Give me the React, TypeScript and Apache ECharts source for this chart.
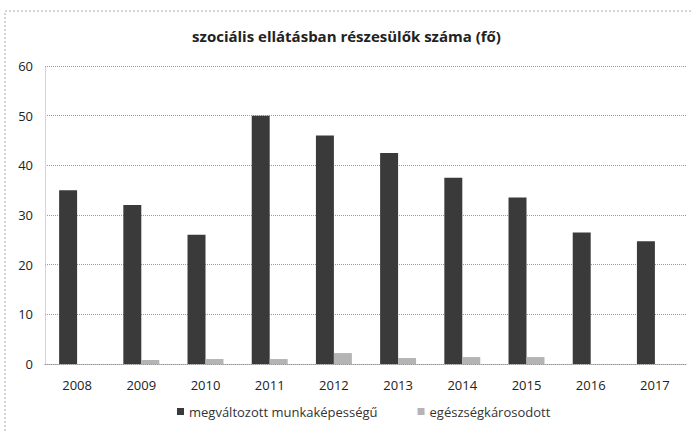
import React, { useEffect, useRef } from "react";
import * as echarts from "echarts";

const years = ["2008", "2009", "2010", "2011", "2012", "2013", "2014", "2015", "2016", "2017"];
const megvaltozott = [35, 32, 26, 50, 46, 42.5, 37.5, 33.5, 26.5, 24.7];
const egeszsegkarosodott = [0, 0.8, 1, 1, 2.2, 1.2, 1.4, 1.4, 0, 0];
const seriesNames = ["megváltozott munkaképességű", "egészségkárosodott"];
const titleText = "szociális ellátásban részesülők száma (fő)";

export default function App() {
  const ref = useRef<HTMLDivElement>(null);
  useEffect(() => {
    document.body.style.margin = "0";
    if (!ref.current) return;
    const chart = echarts.init(ref.current, null, { renderer: "svg" });
    const font = "'Open Sans', 'Noto Sans', sans-serif";
    chart.setOption({
      animation: false,
      backgroundColor: "#ffffff",
      textStyle: { fontFamily: font },
      title: {
        text: titleText,
        left: "center",
        top: 23,
        textStyle: { fontSize: 15, fontWeight: "bold", color: "#222", fontFamily: font },
      },
      graphic: [
        {
          type: "rect",
          shape: { x: 5, y: 11, width: 700, height: 430 },
          style: { fill: "none", stroke: "#aaa", lineWidth: 1, lineDash: [2, 2] },
          silent: true,
        },
      ],
      legend: {
        bottom: 9,
        left: 172,
        itemWidth: 7,
        itemHeight: 7,
        itemGap: 40,
        icon: "rect",
        textStyle: { fontSize: 13, color: "#333", fontFamily: font },
        data: seriesNames,
      },
      grid: { left: 45, right: 6, top: 66, bottom: 68, containLabel: false },
      xAxis: {
        type: "category",
        data: years,
        axisLine: { show: true, lineStyle: { color: "#999", type: "dotted" } },
        axisTick: { show: false },
        axisLabel: { fontSize: 13, color: "#222", margin: 14 },
      },
      yAxis: {
        type: "value",
        min: 0,
        max: 60,
        interval: 10,
        axisLine: { show: true, lineStyle: { color: "#ccc", type: "dotted" } },
        axisLabel: { fontSize: 13, color: "#222", margin: 12 },
        splitLine: { lineStyle: { color: "#999", type: "dotted" } },
      },
      series: [
        {
          name: seriesNames[0],
          type: "bar",
          data: megvaltozott,
          barGap: "0%",
          barCategoryGap: "44%",
          itemStyle: { color: "#3a3a3a" },
        },
        {
          name: seriesNames[1],
          type: "bar",
          data: egeszsegkarosodott,
          itemStyle: { color: "#b4b4b4" },
        },
      ],
    });
    return () => chart.dispose();
  }, []);
  return <div ref={ref} style={{ width: 693, height: 432 }} />;
}
